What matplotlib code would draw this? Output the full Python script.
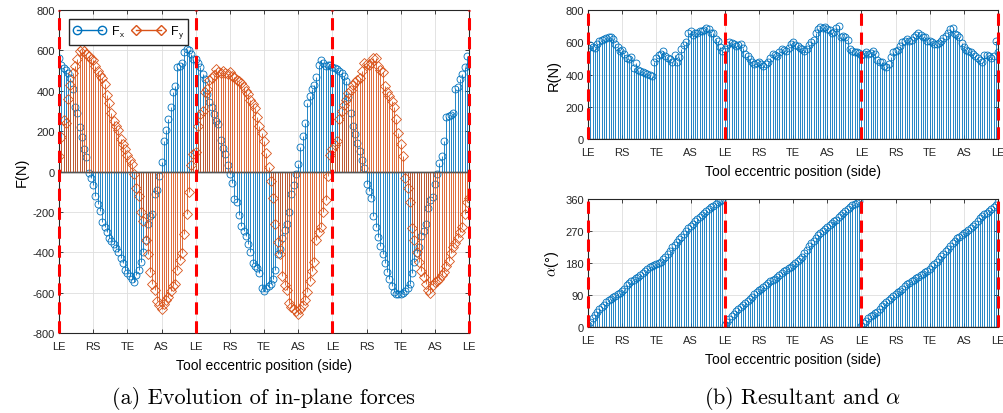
import numpy as np
import matplotlib
matplotlib.use('Agg')
import matplotlib.pyplot as plt
from matplotlib.lines import Line2D

plt.rcParams['font.family'] = ['Liberation Sans', 'DejaVu Sans']
plt.rcParams['mathtext.fontset'] = 'cm'
plt.rcParams['axes.unicode_minus'] = False

# Tool positions: 60 samples per revolution (6 deg each), 3 revolutions
step_deg = 6
tick_labels = ['LE', 'RS', 'TE', 'AS'] * 3 + ['LE']
le_positions = [0, 360, 720, 1080]

# In-plane forces F_x, F_y (N), one list per revolution + last point
fx_c1 = [560, 530, 515, 505, 490, 465, 410, 320, 290, 220,
         170, 110, 70, -5, -30, -65, -120, -160, -195, -250,
         -275, -300, -330, -345, -360, -380, -400, -430, -455, -490,
         -505, -520, -530, -545, -515, -490, -450, -400, -340, -260,
         -220, -210, -110, -90, -20, 45, 150, 205, 260, 320,
         395, 425, 520, 525, 540, 590, 605, 600, 580, 555]
fx_c2 = [555, 540, 520, 485, 460, 385, 345, 320, 285, 250,
         235, 155, 115, 85, 30, -10, -55, -135, -150, -215,
         -270, -295, -320, -360, -400, -455, -470, -480, -505, -575,
         -590, -575, -565, -555, -530, -490, -410, -385, -330, -290,
         -260, -200, -110, -65, -10, 35, 120, 175, 240, 340,
         375, 410, 430, 470, 530, 550, 540, 525, 530, 530]
fx_c3 = [520, 515, 510, 500, 490, 475, 450, 370, 290, 225,
         185, 140, 100, 55, 15, -60, -95, -130, -220, -275,
         -325, -370, -410, -455, -500, -530, -565, -595, -605, -605,
         -605, -600, -590, -575, -555, -505, -450, -405, -375, -320,
         -295, -260, -180, -140, -125, -60, -10, 40, 75, 150,
         270, 275, 280, 290, 410, 420, 460, 485, 520, 570]
fx_end = [525]

fy_c1 = [75, 170, 255, 240, 360, 430, 490, 525, 555, 595,
         605, 595, 580, 570, 555, 550, 525, 500, 480, 465,
         435, 380, 340, 290, 250, 225, 205, 160, 135, 110,
         80, 55, 35, -10, -80, -120, -200, -245, -340, -410,
         -500, -555, -585, -640, -660, -680, -655, -635, -620, -590,
         -565, -555, -490, -440, -405, -310, -210, -100, 30, 85]
fy_c2 = [95, 225, 285, 300, 395, 410, 455, 465, 480, 510,
         495, 490, 500, 490, 485, 495, 475, 470, 455, 450,
         440, 420, 400, 385, 355, 335, 315, 270, 225, 190,
         150, 90, 20, -45, -130, -260, -350, -410, -520, -560,
         -585, -650, -670, -680, -690, -705, -680, -660, -635, -595,
         -540, -495, -450, -340, -300, -275, -200, -140, -20, 80]
fy_c3 = [110, 130, 150, 260, 300, 330, 355, 390, 405, 430,
         445, 455, 465, 500, 540, 535, 530, 540, 560, 560,
         525, 505, 495, 425, 395, 375, 350, 320, 260, 190,
         135, 75, -30, -80, -150, -280, -340, -400, -450, -495,
         -525, -555, -585, -600, -560, -545, -540, -530, -515, -500,
         -470, -445, -405, -375, -355, -330, -300, -275, -210, -150]
fy_end = [-130]

# Resultant R (N) and angle alpha (deg)
r_c1 = [565, 585, 570, 565, 590, 605, 615, 620, 625, 630,
        635, 620, 590, 570, 545, 555, 530, 505, 495, 510,
        440, 470, 430, 420, 415, 410, 405, 395, 390, 475,
        505, 520, 530, 545, 515, 505, 495, 480, 520, 475,
        510, 560, 580, 600, 655, 670, 645, 655, 660, 670,
        670, 675, 690, 680, 660, 655, 620, 610, 570, 545]
r_c2 = [560, 580, 600, 595, 590, 575, 580, 590, 565, 530,
        515, 495, 480, 465, 470, 475, 465, 450, 465, 475,
        505, 525, 520, 515, 540, 560, 555, 545, 565, 590,
        600, 585, 575, 565, 560, 545, 560, 585, 600, 615,
        660, 685, 695, 690, 695, 685, 675, 660, 665, 690,
        700, 635, 640, 630, 615, 560, 545, 540, 540, 535]
r_c3 = [520, 530, 540, 525, 535, 545, 530, 490, 480, 475,
        455, 445, 465, 510, 540, 545, 550, 575, 600, 610,
        620, 605, 615, 630, 645, 660, 645, 635, 630, 610,
        605, 600, 590, 590, 595, 610, 625, 640, 660, 680,
        690, 650, 645, 630, 595, 570, 550, 545, 540, 530,
        515, 505, 490, 475, 520, 520, 515, 505, 515, 610]
r_end = [540]

a_c1 = [5, 15, 25, 33, 42, 50, 57, 63, 69, 75,
        80, 84, 88, 92, 97, 101, 108, 117, 123, 128,
        132, 137, 142, 147, 152, 158, 164, 168, 171, 173,
        176, 180, 184, 190, 197, 204, 214, 224, 232, 240,
        247, 254, 262, 270, 279, 285, 291, 297, 303, 309,
        316, 322, 327, 332, 337, 341, 346, 351, 355, 358]
a_c2 = [5, 15, 22, 30, 38, 45, 51, 57, 63, 68,
        73, 78, 85, 92, 98, 103, 107, 112, 118, 123,
        128, 132, 136, 141, 147, 152, 157, 161, 165, 170,
        175, 180, 185, 190, 197, 207, 216, 227, 235, 242,
        251, 258, 264, 269, 275, 281, 287, 292, 297, 302,
        308, 314, 320, 326, 333, 338, 342, 346, 350, 355]
a_c3 = [3, 12, 18, 24, 30, 35, 39, 43, 52, 59,
        64, 70, 76, 82, 88, 93, 98, 102, 108, 114,
        120, 125, 129, 133, 138, 142, 146, 150, 154, 158,
        164, 171, 177, 184, 191, 199, 206, 213, 220, 228,
        237, 243, 249, 254, 259, 264, 268, 272, 278, 284,
        290, 298, 307, 313, 317, 321, 326, 332, 338, 343]
a_end = [352]

F_x = np.array(fx_c1 + fx_c2 + fx_c3 + fx_end)
F_y = np.array(fy_c1 + fy_c2 + fy_c3 + fy_end)
R = np.array(r_c1 + r_c2 + r_c3 + r_end)
alpha = np.array(a_c1 + a_c2 + a_c3 + a_end)
pos = np.arange(len(F_x)) * step_deg

blue = '#0072BD'
orange = '#D95319'
dark = '#262626'


def draw_stem(ax, y, color, marker):
    ''' MATLAB-like stem plot with open markers. '''
    ml, sl, bl = ax.stem(pos, y, linefmt='-', markerfmt=marker, basefmt='-')
    sl.set_color(color)
    sl.set_linewidth(0.6)
    ml.set_markerfacecolor('none')
    ml.set_markeredgecolor(color)
    ml.set_markersize(5)
    ml.set_markeredgewidth(0.6)
    bl.set_color('#555555')
    bl.set_linewidth(1.0)


def style_axes(ax, yticks):
    ax.set_xlim(0, 1080)
    ax.set_ylim(yticks[0], yticks[-1])
    ax.set_xticks(np.arange(0, 1081, 90))
    ax.set_xticklabels(tick_labels)
    ax.set_yticks(yticks)
    ax.grid(True, color='#dedede', linewidth=0.6)
    ax.set_axisbelow(True)
    ax.tick_params(direction='in', length=3, width=0.6, top=True, right=True,
                   labelsize=8, colors=dark, pad=3)
    ax.tick_params(axis='x', pad=6)
    for s in ax.spines.values():
        s.set_color(dark)
        s.set_linewidth(0.8)
    for xv in le_positions:
        ax.axvline(xv, color='red', linewidth=2.2, dashes=(4, 2.2), clip_on=False, zorder=5)
    ax.set_xlabel('Tool eccentric position (side)', fontsize=10, color='black', labelpad=5)


fig = plt.figure(figsize=(10.04, 4.14), dpi=100)

# (a) in-plane forces
ax1 = fig.add_axes([0.0588, 0.1932, 0.4084, 0.7802])
draw_stem(ax1, F_x, blue, 'o')
draw_stem(ax1, F_y, orange, 'D')
style_axes(ax1, np.arange(-800, 801, 200))
ax1.set_ylabel('F(N)', fontsize=10.5, labelpad=3)
h_x = Line2D([], [], color=blue, marker='o', mfc='none', mec=blue, ms=6, lw=1, markevery=[1])
h_y = Line2D([], [], color=orange, marker='D', mfc='none', mec=orange, ms=5, lw=1, markevery=[1])
ax1.legend([h_x, h_y], ['F$_{\\mathsf{x}}$', 'F$_{\\mathsf{y}}$'], ncol=2, numpoints=2,
           loc='upper left', bbox_to_anchor=(0.024, 0.972), borderaxespad=0,
           fancybox=False, edgecolor=dark, framealpha=1, fontsize=9,
           handlelength=2.6, columnspacing=0.6, handletextpad=0.4, borderpad=0.35)

# (b) resultant and angle
ax2 = fig.add_axes([0.5857, 0.6618, 0.4084, 0.3116])
draw_stem(ax2, R, blue, 'o')
style_axes(ax2, np.arange(0, 801, 200))
ax2.set_ylabel('R(N)', fontsize=10.5, labelpad=3)

ax3 = fig.add_axes([0.5857, 0.2077, 0.4084, 0.3092])
draw_stem(ax3, alpha, blue, 'o')
style_axes(ax3, np.arange(0, 361, 90))
ax3.set_ylabel(r'$\alpha$(°)', fontsize=10.5, labelpad=3)

fig.text(0.262, 0.038, '(a) Evolution of in-plane forces', family='cmr10', fontsize=16,
         ha='center', va='center')
fig.text(0.799, 0.038, r'(b) Resultant and $\alpha$', family='cmr10', fontsize=16,
         ha='center', va='center')

fig.savefig('out.png', dpi=100)
